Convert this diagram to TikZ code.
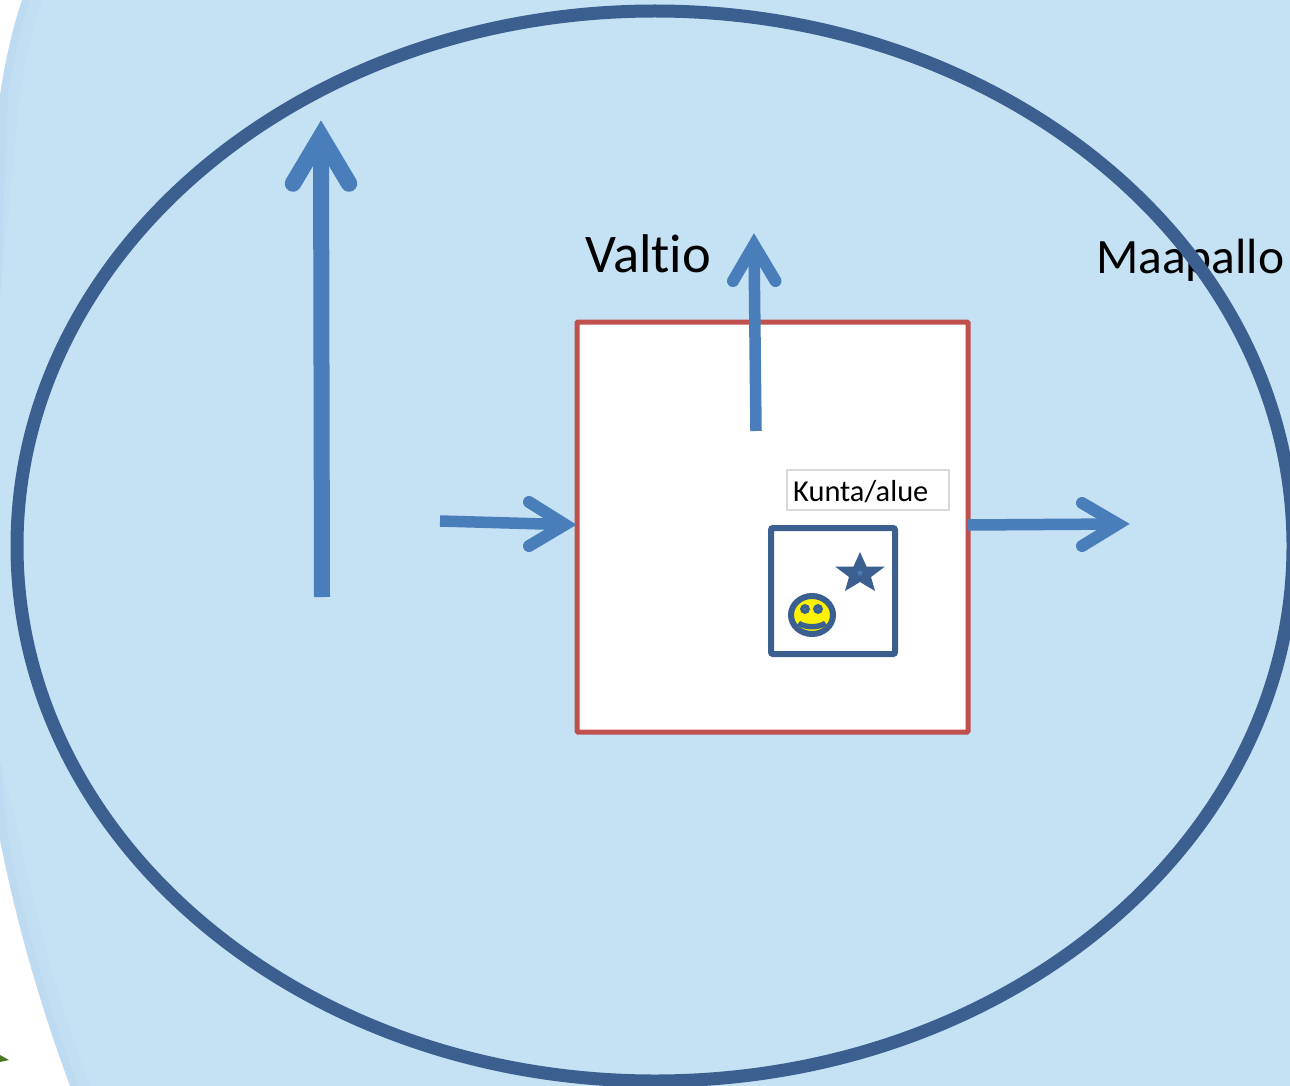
\documentclass[tikz,border=0pt]{standalone}
\usepackage{fontspec}
\setmainfont[Ligatures=NoCommon]{Carlito}
\usetikzlibrary{shapes.geometric,calc}
\definecolor{skyfill}{HTML}{C5E1F4}
\definecolor{skyedge}{HTML}{BDDAF0}
\definecolor{skymid}{HTML}{C1DEF2}
\definecolor{ringblue}{HTML}{3B5F8E}
\definecolor{arrowblue}{HTML}{4A7EBB}
\definecolor{boxred}{HTML}{C0504D}
\definecolor{leafgreen}{HTML}{4A7A20}
\tikzset{
  bigshaft/.style={draw=arrowblue,line width=16pt},
  bighead/.style={draw=arrowblue,line width=16.5pt,line cap=round,line join=miter,miter limit=10},
  smallshaft/.style={draw=arrowblue,line width=11.5pt},
  smallhead/.style={draw=arrowblue,line width=12pt,line cap=round,line join=miter,miter limit=10},
  labeltext/.style={inner sep=0pt,anchor=base west,text=black},
  solidnode/.style={inner sep=0pt,outer sep=0pt}
}
\begin{document}
\begin{tikzpicture}[x=1pt,y=-1pt]
\useasboundingbox (0,0) rectangle (1290,1086);
\fill[white] (0,0) rectangle (1290,1086);
% background sphere with a soft rim
\fill[skyedge] (22,0) .. controls (12,30) and (5,62) .. (0,95) -- (0,840)
  .. controls (18,930) and (42,1010) .. (70,1086) -- (1290,1086) -- (1290,0) -- cycle;
\fill[skymid] (30,0) .. controls (20,30) and (13,62) .. (8,95) -- (0,300) -- (0,760) -- (8,840)
  .. controls (26,930) and (50,1010) .. (78,1086) -- (1290,1086) -- (1290,0) -- cycle;
\fill[skyfill] (42,0) .. controls (32,30) and (25,62) .. (20,95) -- (0,300) -- (0,760) -- (20,840)
  .. controls (38,930) and (62,1010) .. (90,1086) -- (1290,1086) -- (1290,0) -- cycle;
\fill[leafgreen] (0,1055) -- (9,1060) -- (0,1062) -- cycle;
% labels lie under the ring
\node (maa) [labeltext,font=\fontsize{49.5}{54}\selectfont] at (1096,273) {Maapallo};
\node (val) [labeltext,font=\fontsize{54.5}{58}\selectfont] at (585,272.5) {Valtio};
% world ring
\node (world) [draw=ringblue,line width=13pt,ellipse,minimum width=1276pt,minimum height=1070pt,solidnode] at (655,546) {};
% state box
\node (state) [draw=boxred,fill=white,line width=5pt,rounded corners=1pt,minimum width=391pt,minimum height=410pt,solidnode] at (772.5,527) {};
% municipality box
\node (kunta) [draw=ringblue,fill=white,line width=6pt,rounded corners=2pt,minimum width=124pt,minimum height=126pt,solidnode] at (833,591) {};
\node (kuntalabel) [draw=black!15,fill=white,line width=1.2pt,minimum width=162pt,minimum height=40pt,solidnode] at (868,490) {};
\node (kuntatext) [labeltext,font=\fontsize{30.4}{33}\selectfont] at (793,501) {Kunta/alue};
% star
\fill[ringblue] (860,552) -- (866.5,566.5) -- (885,566.5) -- (871,577) -- (875,591) -- (860,582) -- (845,591) -- (849,577) -- (835,566.5) -- (853.5,566.5) -- cycle;
\node (starcore) [star,star points=5,star point ratio=2.55,fill=arrowblue,minimum size=8pt,solidnode] at (860,573) {};
% smiley
\node (face) [draw=ringblue,fill=yellow,line width=6pt,ellipse,minimum width=42pt,minimum height=38pt,solidnode] at (812,615) {};
\node (eyeL) [circle,fill=ringblue,minimum size=10pt,solidnode] at (805,609) {};
\node (eyeR) [circle,fill=ringblue,minimum size=10pt,solidnode] at (818,609) {};
\node (pupilL) [circle,fill=arrowblue,minimum size=2pt,solidnode] at (805,609) {};
\node (pupilR) [circle,fill=arrowblue,minimum size=2pt,solidnode] at (818,609) {};
\fill[ringblue] (800,621) .. controls (807,625) and (817,625) .. (824,621) -- (827,625) .. controls (819,631) and (805,631) .. (797,625) -- cycle;
% arrows
\coordinate (a1s) at (322,597); \coordinate (a1a) at (321,136.5);
\coordinate (a1l) at (293,183.5); \coordinate (a1r) at (349,183.5);
\coordinate (a2s) at (756,431); \coordinate (a2a) at (754,245);
\coordinate (a2l) at (733,281); \coordinate (a2r) at (775.5,281);
\coordinate (a3s) at (440,521); \coordinate (a3a) at (565,524.6);
\coordinate (a3l) at (529,502); \coordinate (a3r) at (529,546);
\coordinate (a4a) at (1118,524);
\coordinate (a4l) at (1082,503); \coordinate (a4r) at (1082,546);
\draw[bigshaft] (a1s) -- (a1a);
\draw[bighead] (a1l) -- (a1a) -- (a1r);
\draw[smallshaft] (a2s) -- (a2a);
\draw[smallhead] (a2l) -- (a2a) -- (a2r);
\draw[smallshaft] (a3s) -- (a3a);
\draw[smallhead] (a3l) -- (a3a) -- (a3r);
\draw[smallshaft] (state.east |- 0,525) -- (a4a);
\draw[smallhead] (a4l) -- (a4a) -- (a4r);
\end{tikzpicture}
\end{document}
